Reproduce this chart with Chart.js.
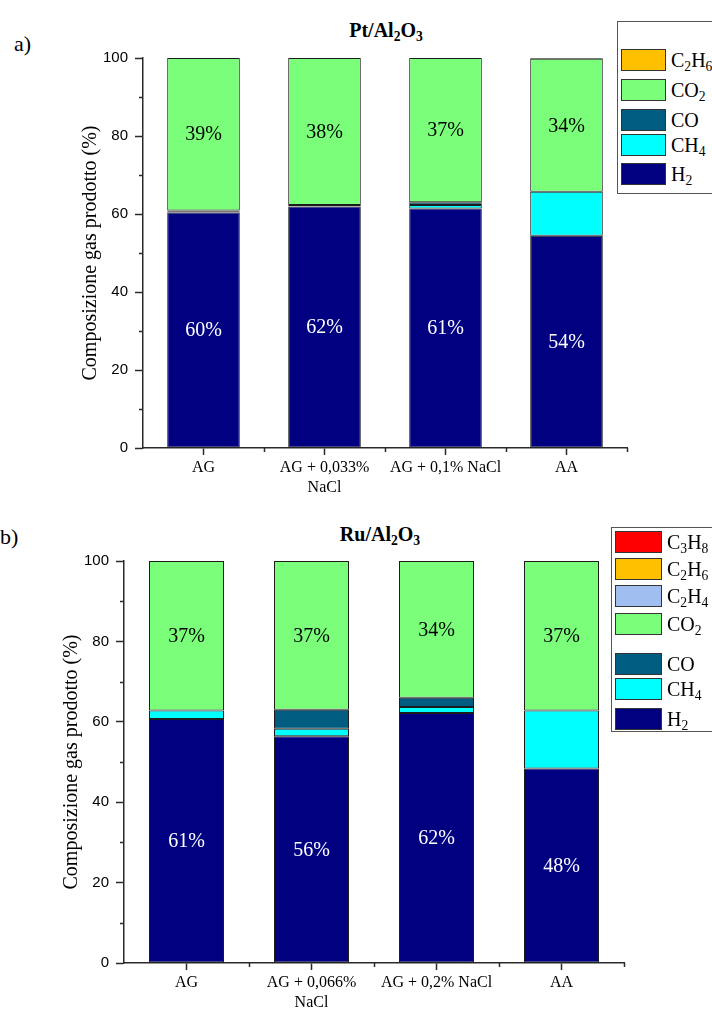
<!DOCTYPE html>
<html lang="it">
<head>
<meta charset="utf-8">
<title>Composizione gas prodotto</title>
<script src="https://cdn.jsdelivr.net/npm/chart.js@4/dist/chart.umd.min.js"></script>
<style>
  html, body { margin: 0; padding: 0; background: #fff; }
  body { position: relative; width: 712px; height: 1012px; overflow: hidden;
         font-family: "Liberation Serif", "Times New Roman", serif; color: #000; }
  canvas { position: absolute; left: 0; }
  .panel-tag { position: absolute; font-size: 22px; line-height: 1; }
  .panel-title { position: absolute; font-weight: bold; font-size: 20px; line-height: 1;
                 transform: translateX(-50%); white-space: nowrap; }
  sub { font-size: 0.68em; vertical-align: -0.28em; line-height: 0; }
  .legend { position: absolute; border: 1px solid #555; background: #fff; box-sizing: border-box; }
  .legend-item { position: absolute; display: flex; align-items: center; height: 22px; white-space: nowrap; }
  .swatch { box-sizing: border-box; height: 22px; border: 1px solid #333; margin-right: 5px; flex: none; }
  .legend-item span.txt { font-size: 20px; line-height: 22px; }
</style>
</head>
<body>
<div class="panel-tag" style="left:14px; top:33px;">a)</div>
<div class="panel-title" style="left:386px; top:20px;">Pt/Al<sub>2</sub>O<sub>3</sub></div>
<canvas id="chartPt" width="712" height="500" style="top:0; width:712px; height:500px;"></canvas>

<div class="panel-tag" style="left:0px; top:526px;">b)</div>
<div class="panel-title" style="left:380px; top:524px;">Ru/Al<sub>2</sub>O<sub>3</sub></div>
<canvas id="chartRu" width="712" height="512" style="top:500px; width:712px; height:512px;"></canvas>

<div id="legendPt" class="legend" style="left:617px; top:21px; width:110px; height:173px;"></div>
<div id="legendRu" class="legend" style="left:611px; top:527px; width:110px; height:205px;"></div>

<script>
// ---- Data: gas composition (%) per feed, Pt/Al2O3 ----
const categoriesPt = ['AG', ['AG + 0,033%', 'NaCl'], 'AG + 0,1% NaCl', 'AA'];
const h2Pt   = [60.4, 61.9, 61.4, 54.4];
const ch4Pt  = [0.2, 0.1, 0.9, 11.3];
const coPt   = [0.3, 0.3, 0.7, 0.0];
const co2Pt  = [39.1, 37.7, 37.0, 34.1];
const c2h6Pt = [0.0, 0.0, 0.0, 0.2];

// ---- Data: gas composition (%) per feed, Ru/Al2O3 ----
const categoriesRu = ['AG', ['AG + 0,066%', 'NaCl'], 'AG + 0,2% NaCl', 'AA'];
const h2Ru   = [60.7, 56.4, 62.2, 48.4];
const ch4Ru  = [2.1, 1.9, 1.5, 14.4];
const coRu   = [0.0, 4.7, 2.3, 0.0];
const co2Ru  = [37.2, 37.0, 34.0, 37.2];
const c2h4Ru = [0.0, 0.0, 0.0, 0.0];
const c2h6Ru = [0.0, 0.0, 0.0, 0.0];
const c3h8Ru = [0.0, 0.0, 0.0, 0.0];

const yTickValues = [0, 20, 40, 60, 80, 100];
const yMinorValues = [10, 30, 50, 70, 90];

// ---- Styling ----
const gasColors = {
  'H2':   '#000080',
  'CH4':  '#00FFFF',
  'CO':   '#005C80',
  'CO2':  '#7BFF7B',
  'C2H4': '#A0BFF0',
  'C2H6': '#FFC000',
  'C3H8': '#FF0000'
};
const SERIF = '"Liberation Serif", "Times New Roman", serif';
const SANS = '"Liberation Sans", Arial, sans-serif';
const AXIS_COLOR = '#2a2a2a';

function gasHtml(name) {
  return name.replace(/(\d)/g, '<sub>$1</sub>');
}

function makeDatasets(series) {
  return series.map(([name, values]) => ({
    label: name,
    data: values,
    backgroundColor: gasColors[name],
    borderColor: '#1c1c1c',
    // empty segments get no outline
    borderWidth: (c) => (c.raw > 0 ? 1 : 0),
    borderSkipped: false,
    barPercentage: 0.6,
    categoryPercentage: 1.0
  }));
}

// Percent labels centred inside the H2 (white) and CO2 (black) segments
const segmentLabels = {
  id: 'segmentLabels',
  afterDatasetsDraw(chart, args, opts) {
    const ctx = chart.ctx;
    ctx.save();
    ctx.font = '20px ' + SERIF;
    ctx.textAlign = 'center';
    ctx.textBaseline = 'middle';
    chart.data.datasets.forEach((ds, di) => {
      const color = opts.colors[ds.label];
      if (!color) return;
      const meta = chart.getDatasetMeta(di);
      meta.data.forEach((bar, i) => {
        const p = bar.getProps(['x', 'y', 'base'], true);
        ctx.fillStyle = color;
        ctx.fillText(Math.round(ds.data[i]) + '%', p.x, (p.y + p.base) / 2 + 1);
      });
    });
    ctx.restore();
  }
};

// Short minor ticks: odd tens on the value axis, category boundaries on the x axis
const minorTicks = {
  id: 'minorTicks',
  afterDraw(chart) {
    const ctx = chart.ctx;
    const xs = chart.scales.x, ys = chart.scales.y;
    ctx.save();
    ctx.strokeStyle = AXIS_COLOR;
    ctx.lineWidth = 1.5;
    ctx.beginPath();
    yMinorValues.forEach(v => {
      const py = Math.round(ys.getPixelForValue(v)) + 0.5;
      ctx.moveTo(ys.right - 4, py);
      ctx.lineTo(ys.right, py);
    });
    const n = chart.data.labels.length;
    for (let i = 0; i < n; i++) {
      let px;
      if (i < n - 1) px = (xs.getPixelForValue(i) + xs.getPixelForValue(i + 1)) / 2;
      else px = xs.right;
      px = Math.round(px) + 0.5;
      ctx.moveTo(px, xs.top);
      ctx.lineTo(px, xs.top + 4);
    }
    ctx.stroke();
    ctx.restore();
  }
};

function buildChart(canvasId, labels, series, geom) {
  return new Chart(document.getElementById(canvasId), {
    type: 'bar',
    data: { labels: labels, datasets: makeDatasets(series) },
    plugins: [segmentLabels, minorTicks],
    options: {
      responsive: false,
      animation: false,
      devicePixelRatio: 1,
      layout: { padding: { top: geom.top, right: geom.right, left: 0, bottom: 0 } },
      plugins: {
        legend: { display: false },
        title: { display: false },
        tooltip: { enabled: false },
        segmentLabels: { colors: { 'H2': '#ffffff', 'CO2': '#000000' } }
      },
      scales: {
        x: {
          stacked: true,
          grid: { offset: false, drawOnChartArea: false, drawTicks: true, tickLength: 7,
                  tickColor: AXIS_COLOR, tickWidth: 1.5 },
          border: { display: true, color: AXIS_COLOR, width: 1.5 },
          ticks: { font: { family: SERIF, size: 16, lineHeight: 1.25 }, color: '#000',
                   padding: 3, maxRotation: 0, minRotation: 0, autoSkip: false },
          afterFit(s) { s.height = geom.xHeight; }
        },
        y: {
          stacked: true,
          min: 0, max: 100,
          afterBuildTicks(s) { s.ticks = yTickValues.map(v => ({ value: v })); },
          ticks: { font: { family: SANS, size: 15 }, color: '#000', padding: 7 },
          grid: { drawOnChartArea: false, drawTicks: true, tickLength: 8,
                  tickColor: AXIS_COLOR, tickWidth: 1.5 },
          border: { display: true, color: AXIS_COLOR, width: 1.5 },
          title: { display: true, text: 'Composizione gas prodotto (%)', color: '#000',
                   font: { family: SERIF, size: 20 }, padding: { top: geom.titleOffset, bottom: 0 } },
          afterFit(s) { s.width = geom.yWidth; }
        }
      }
    }
  });
}

buildChart('chartPt', categoriesPt, [
  ['H2', h2Pt], ['CH4', ch4Pt], ['CO', coPt], ['CO2', co2Pt], ['C2H6', c2h6Pt]
], { top: 58, right: 85, yWidth: 143, xHeight: 52, titleOffset: 79 });

buildChart('chartRu', categoriesRu, [
  ['H2', h2Ru], ['CH4', ch4Ru], ['CO', coRu], ['CO2', co2Ru],
  ['C2H4', c2h4Ru], ['C2H6', c2h6Ru], ['C3H8', c3h8Ru]
], { top: 61, right: 88, yWidth: 124, xHeight: 49, titleOffset: 60 });

// Legends (top-down order reversed from the stacking order)
function buildLegend(id, entries, swatchWidth) {
  const box = document.getElementById(id);
  entries.forEach(([name, top]) => {
    const item = document.createElement('div');
    item.className = 'legend-item';
    item.style.left = '3px';
    item.style.top = top + 'px';
    item.innerHTML = '<div class="swatch" style="width:' + swatchWidth + 'px;background:' +
      gasColors[name] + '"></div><span class="txt">' + gasHtml(name) + '</span>';
    box.appendChild(item);
  });
}
buildLegend('legendPt', [['C2H6', 27], ['CO2', 57], ['CO', 87], ['CH4', 112], ['H2', 141]], 45);
buildLegend('legendRu', [['C3H8', 3], ['C2H6', 30], ['C2H4', 57], ['CO2', 85], ['CO', 125], ['CH4', 150], ['H2', 180]], 47);
</script>
</body>
</html>
